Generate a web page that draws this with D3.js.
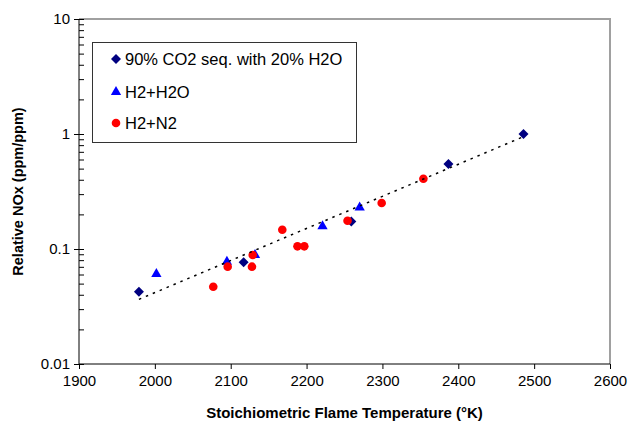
<!DOCTYPE html>
<html>
<head>
<meta charset="utf-8">
<script src="https://cdn.jsdelivr.net/npm/d3@7"></script>
<style>
  body { margin: 0; background: #fff; }
  text { font-family: "Liberation Sans", Arial, sans-serif; }
</style>
</head>
<body>
<svg id="chart" width="628" height="423"></svg>
<script>
const width = 628;
const height = 423;

// data
const co2Temp = [1979, 2117, 2259, 2387, 2486];
const co2NOx = [0.0425, 0.0766, 0.173, 0.548, 1.0];

const h2oTemp = [2002, 2095, 2132, 2221, 2270];
const h2oNOx = [0.0607, 0.0776, 0.0887, 0.158, 0.23];

const n2Temp = [2077, 2096, 2128, 2129, 2168, 2188, 2197, 2254, 2299, 2354];
const n2NOx = [0.047, 0.0702, 0.0702, 0.0887, 0.147, 0.1055, 0.1055, 0.176, 0.251, 0.408];

// dotted trend line (exponential -> straight on log axis)
const trendTemp = [1979, 2484];
const trendNOx = [0.0365, 0.936];

const xTicks = [1900, 2000, 2100, 2200, 2300, 2400, 2500, 2600];
const yTicks = [0.01, 0.1, 1, 10];
const seriesNames = ["90% CO2 seq. with 20% H2O", "H2+H2O", "H2+N2"];
const seriesColors = ["#000080", "#0000ff", "#ff0000"];

const margin = {left: 79, right: 18, top: 19, bottom: 59};

const svg = d3.select("#chart");

const x = d3.scaleLinear()
    .domain([1900, 2600])
    .range([margin.left, width - margin.right]);

const y = d3.scaleLog()
    .domain([0.01, 10])
    .range([height - margin.bottom, margin.top]);

// minor ticks 2..9 for each decade
let minorTicks = [];
for (let i = 0; i < yTicks.length - 1; i++) {
    for (let k = 2; k <= 9; k++) minorTicks.push(yTicks[i] * k);
}

// top and right border of plot area (grey)
svg.append("path")
    .attr("d", `M${x(1900)},${y(10)}H${x(2600)}V${y(0.01)}`)
    .attr("fill", "none")
    .attr("stroke", "#a0a0a0")
    .attr("stroke-width", 2);

// y axis
const yAxis = svg.append("g")
    .attr("transform", `translate(${x(1900)},0)`)
    .call(d3.axisLeft(y).tickValues(yTicks).tickSize(5).tickPadding(4)
        .tickFormat(function(d){ return String(d); }));
yAxis.selectAll(".tick line").attr("x1", 5);
yAxis.select(".domain").attr("d", `M0,${y(0.01)}V${y(10)}`);

const yMinor = svg.append("g")
    .attr("transform", `translate(${x(1900)},0)`)
    .call(d3.axisRight(y).tickValues(minorTicks).tickSize(5).tickFormat(""));
yMinor.select(".domain").remove();

// x axis
const xAxis = svg.append("g")
    .attr("transform", `translate(0,${y(0.01)})`)
    .call(d3.axisBottom(x).tickValues(xTicks).tickSize(5).tickPadding(6)
        .tickFormat(d3.format("d")));
xAxis.select(".domain").attr("d", `M${x(1900)},0H${x(2600)}`);

svg.selectAll(".tick text")
    .attr("font-size", 15)
    .attr("fill", "#000")
    .attr("font-family", "Liberation Sans, Arial, sans-serif");
svg.selectAll(".tick line").attr("stroke", "#000");
svg.selectAll(".domain").attr("stroke", "#000");

// axis titles
svg.append("text")
    .attr("x", (x(1900) + x(2600)) / 2)
    .attr("y", 418)
    .attr("text-anchor", "middle")
    .attr("font-size", 15)
    .attr("font-weight", "bold")
    .text("Stoichiometric Flame Temperature (°K)");

svg.append("text")
    .attr("transform", `translate(23,${(y(0.01) + y(10)) / 2}) rotate(-90)`)
    .attr("text-anchor", "middle")
    .attr("font-size", 14.5)
    .attr("font-weight", "bold")
    .text("Relative NOx (ppm/ppm)");

// markers
const diamond = d3.symbol().type(d3.symbolSquare).size(50);
const triangle = d3.symbol().type(d3.symbolTriangle).size(46);

svg.append("g").selectAll("path")
    .data(co2Temp)
    .enter()
    .append("path")
        .attr("d", diamond)
        .attr("transform", function(d, i){ return `translate(${x(d)},${y(co2NOx[i])}) rotate(45)`; })
        .attr("fill", seriesColors[0]);

svg.append("g").selectAll("path")
    .data(h2oTemp)
    .enter()
    .append("path")
        .attr("d", triangle)
        .attr("transform", function(d, i){ return `translate(${x(d)},${y(h2oNOx[i])})`; })
        .attr("fill", seriesColors[1]);

svg.append("g").selectAll("circle")
    .data(n2Temp)
    .enter()
    .append("circle")
        .attr("cx", function(d){ return x(d); })
        .attr("cy", function(d, i){ return y(n2NOx[i]); })
        .attr("r", 4.3)
        .attr("fill", seriesColors[2]);

// trend line
svg.append("line")
    .attr("x1", x(trendTemp[0]))
    .attr("y1", y(trendNOx[0]))
    .attr("x2", x(trendTemp[1]))
    .attr("y2", y(trendNOx[1]))
    .attr("stroke", "#000")
    .attr("stroke-width", 1.5)
    .attr("stroke-dasharray", "2.5,5");

// legend
const legend = svg.append("g");
legend.append("rect")
    .attr("x", 92.5)
    .attr("y", 42.5)
    .attr("width", 264)
    .attr("height", 100)
    .attr("fill", "#fff")
    .attr("stroke", "#333")
    .attr("stroke-width", 1);

const rowY = [59, 92, 123];
const legendSymbols = [diamond, triangle, null];
seriesNames.forEach(function(name, i){
    if (i === 2) {
        legend.append("circle")
            .attr("cx", 116)
            .attr("cy", rowY[i])
            .attr("r", 4.3)
            .attr("fill", seriesColors[i]);
    } else {
        legend.append("path")
            .attr("d", legendSymbols[i])
            .attr("transform", `translate(116,${rowY[i]})` + (i === 0 ? " rotate(45)" : ""))
            .attr("fill", seriesColors[i]);
    }
    legend.append("text")
        .attr("x", 125)
        .attr("y", rowY[i])
        .attr("dy", "0.35em")
        .attr("font-size", 16.5)
        .text(name);
});
</script>
</body>
</html>
